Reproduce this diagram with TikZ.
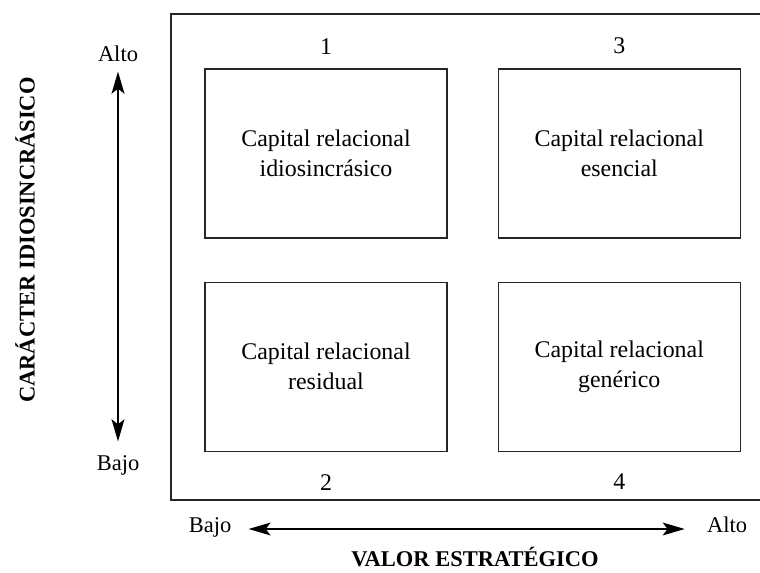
\documentclass[tikz,border=0pt]{standalone}
\usepackage{fontspec}
\setmainfont{Liberation Serif}
\usetikzlibrary{positioning, arrows.meta}

\begin{document}
\begin{tikzpicture}[
  x=0.25mm, y=-0.25mm,
  node distance=10.75mm and 12.5mm,
  every node/.style={font=\fontsize{17}{21.3}\selectfont},
  quad/.style={draw=black!85, line width=0.9pt, minimum width=60.5mm,
               minimum height=42.25mm, align=center, inner sep=0pt},
  num/.style={inner sep=0pt},
  level/.style={inner sep=0pt, text height=0.7em, text depth=0.2em,
                font=\fontsize{16}{18}\selectfont},
  axis/.style={inner sep=0pt, font=\bfseries\fontsize{16}{19}\selectfont},
  arrow/.style={{Stealth[length=5.5mm, width=3.2mm, inset=1.2mm]}-{Stealth[length=5.5mm, width=3.2mm, inset=1.2mm]},
                line width=1.4pt},
  frame/.style={draw=black!85, line width=0.9pt},
]
\useasboundingbox (0,0) rectangle (760,573);

% Outer frame (open to the right)
\draw[frame] (780,14) -| (171,500) -- (780,500);

% Quadrants
\node[quad] (q1) at (326,153.5) {Capital relacional\\idiosincrásico};
\node[quad, right=of q1] (q3) {Capital relacional\\esencial};
\node[quad, below=of q1] (q2) {Capital relacional\\residual};
\node[quad, below=of q3] (q4) {Capital relacional\\genérico};

% Quadrant numbers
\node[num, above=3.5mm of q1] (n1) {1};
\node[num, above=3.5mm of q3] (n3) {3};
\node[num, below=5.5mm of q2] (n2) {2};
\node[num, below=5.5mm of q4] (n4) {4};

% Vertical axis
\node[level] (altoV) at (118,58) {Alto};
\node[level] (bajoV) at (118,467) {Bajo};
\draw[arrow, shorten <=1.75mm, shorten >=4.75mm] (altoV) -- (bajoV);
\node[axis, rotate=90] (caracter) at (25,240) {CARÁCTER IDIOSINCRÁSICO};

% Horizontal axis
\node[level] (bajoH) at (210,529) {Bajo};
\node[level] (altoH) at (727,529) {Alto};
\draw[arrow, shorten <=4.25mm, shorten >=5.5mm] (bajoH) -- (altoH);
\node[axis] (valor) at (475,557) {VALOR ESTRATÉGICO};

\end{tikzpicture}
\end{document}
